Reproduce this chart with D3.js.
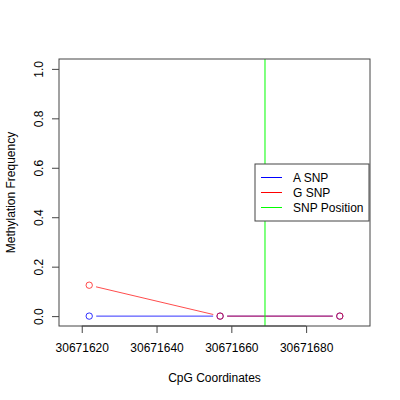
<!DOCTYPE html>
<html>
<head>
<meta charset="utf-8">
<script src="https://cdn.jsdelivr.net/npm/d3@7"></script>
<style>
  body { margin: 0; background: #fff; }
  text { font-family: "Liberation Sans", Arial, sans-serif; }
</style>
</head>
<body>
<script>
// data
var positions = [30671622, 30671657, 30671689];
var aSnp = [0, 0, 0];
var gSnp = [0.125, 0, 0];
var snpPosition = 30671669;
var xLimits = [30671617, 30671694];
var xTicks = [30671620, 30671640, 30671660, 30671680];
var yTicks = [0, 0.2, 0.4, 0.6, 0.8, 1.0];
var legendLabels = ["A SNP", "G SNP", "SNP Position"];
var legendColors = ["#0000ff", "#ff0000", "#00ff00"];

var width = 400, height = 400;
var plotLeft = 59, plotRight = 370, plotTop = 59, plotBottom = 326;

var svg = d3.select("body").append("svg")
    .attr("width", width)
    .attr("height", height);

// R style 4% padding on both axes
var xr = xLimits[1] - xLimits[0];
var x = d3.scaleLinear()
    .domain([xLimits[0] - 0.04 * xr, xLimits[1] + 0.04 * xr])
    .range([plotLeft, plotRight]);
var y = d3.scaleLinear()
    .domain([-0.04, 1.04])
    .range([plotBottom, plotTop]);

// series lines with gaps around the points (type = "b")
function drawSeries(vals, color, opacity) {
  var pts = positions.map(function(p, i) { return [x(p), y(vals[i])]; });
  var gap = 7;
  for (var i = 0; i < pts.length - 1; i++) {
    var dx = pts[i + 1][0] - pts[i][0], dy = pts[i + 1][1] - pts[i][1];
    var len = Math.sqrt(dx * dx + dy * dy);
    if (len <= 2 * gap) continue;
    var ux = dx / len, uy = dy / len;
    svg.append("line")
        .attr("x1", pts[i][0] + ux * gap)
        .attr("y1", pts[i][1] + uy * gap)
        .attr("x2", pts[i + 1][0] - ux * gap)
        .attr("y2", pts[i + 1][1] - uy * gap)
        .attr("stroke", color)
        .attr("stroke-opacity", opacity)
        .attr("stroke-width", 1);
  }
  svg.selectAll(null).data(pts).enter().append("circle")
      .attr("cx", function(d) { return d[0]; })
      .attr("cy", function(d) { return d[1]; })
      .attr("r", 3.2)
      .attr("fill", "none")
      .attr("stroke", color)
      .attr("stroke-opacity", opacity)
      .attr("stroke-width", 1);
}

drawSeries(aSnp, legendColors[0], 0.8);
drawSeries(gSnp, legendColors[1], 0.7);

// SNP position line
svg.append("line")
    .attr("x1", x(snpPosition))
    .attr("x2", x(snpPosition))
    .attr("y1", plotTop)
    .attr("y2", plotBottom)
    .attr("stroke", legendColors[2])
    .attr("stroke-width", 1);

// axes
var xAxis = svg.append("g")
    .attr("transform", "translate(0," + plotBottom + ")")
    .call(d3.axisBottom(x).tickValues(xTicks).tickFormat(d3.format("d")).tickSize(7).tickPadding(10));
var yAxis = svg.append("g")
    .attr("transform", "translate(" + plotLeft + ",0)")
    .call(d3.axisLeft(y).tickValues(yTicks).tickFormat(d3.format(".1f")).tickSize(7));

[xAxis, yAxis].forEach(function(g) {
  g.select(".domain").remove();
  g.selectAll("line").attr("stroke", "#444");
  g.selectAll("text").attr("font-size", 12).attr("fill", "#000")
      .style("font-family", "'Liberation Sans', Arial, sans-serif");
});

// R draws the axis line from first to last tick
svg.append("line")
    .attr("x1", x(xTicks[0])).attr("x2", x(xTicks[xTicks.length - 1]))
    .attr("y1", plotBottom).attr("y2", plotBottom).attr("stroke", "#444");

yAxis.selectAll(".tick text")
    .attr("text-anchor", "middle")
    .attr("dy", null)
    .attr("x", 0)
    .attr("y", 0)
    .attr("transform", "translate(-20,0) rotate(-90)")
    .attr("dominant-baseline", "central");

// plot box
svg.append("rect")
    .attr("x", plotLeft).attr("y", plotTop)
    .attr("width", plotRight - plotLeft).attr("height", plotBottom - plotTop)
    .attr("fill", "none")
    .attr("stroke", "#444")
    .attr("stroke-width", 1);

// axis titles
svg.append("text")
    .attr("x", (plotLeft + plotRight) / 2)
    .attr("y", 382)
    .attr("text-anchor", "middle")
    .attr("font-size", 12)
    .text("CpG Coordinates");
svg.append("text")
    .attr("transform", "translate(15," + (plotTop + plotBottom) / 2 + ") rotate(-90)")
    .attr("text-anchor", "middle")
    .attr("font-size", 12)
    .text("Methylation Frequency");

// legend
var lg = svg.append("g").attr("transform", "translate(255,164)");
lg.append("rect")
    .attr("width", 114).attr("height", 57)
    .attr("fill", "#fff")
    .attr("stroke", "#444");
legendLabels.forEach(function(lab, i) {
  var ly = 13.5 + i * 15;
  lg.append("line")
      .attr("x1", 6).attr("x2", 27)
      .attr("y1", ly).attr("y2", ly)
      .attr("stroke", legendColors[i]);
  lg.append("text")
      .attr("x", 38).attr("y", ly)
      .attr("dominant-baseline", "central")
      .attr("font-size", 12)
      .text(lab);
});
</script>
</body>
</html>
